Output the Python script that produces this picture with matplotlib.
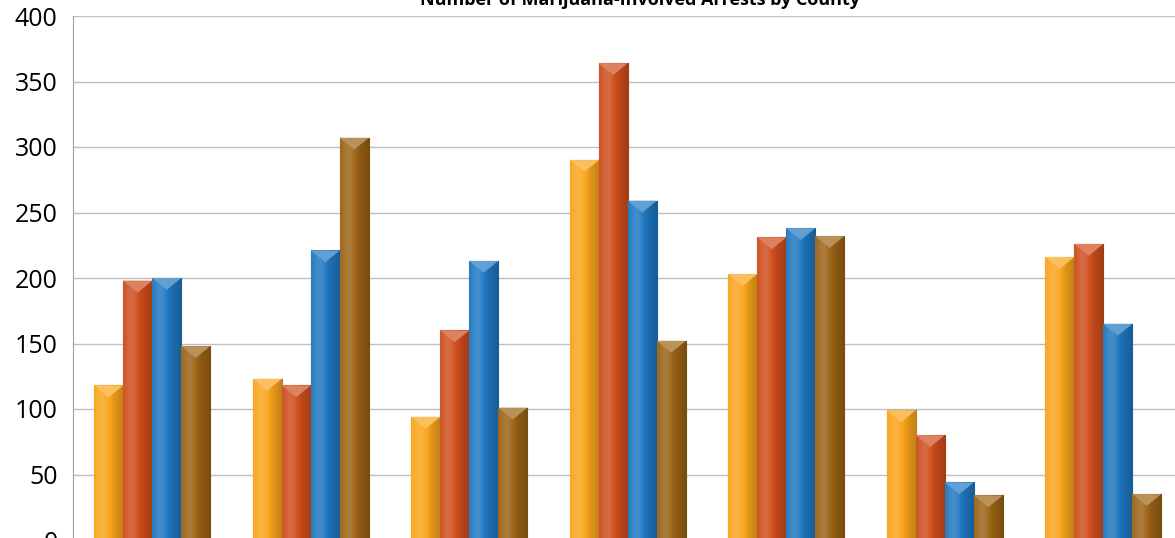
import numpy as np
import matplotlib.pyplot as plt
import matplotlib.colors as mcolors

counties = ["A", "B", "C", "D", "E", "F", "G"]
s1 = [118, 123, 94, 290, 203, 99, 216]
s2 = [198, 118, 160, 364, 231, 80, 226]
s3 = [200, 221, 213, 259, 238, 44, 165]
s4 = [148, 307, 101, 152, 232, 34, 35]
series = [s1, s2, s3, s4]
colors = ["#F9A41C", "#CE4D1C", "#1F77C0", "#9A6214"]

fig = plt.figure(figsize=(11.75, 5.38), dpi=100)
ax = fig.add_axes([73/1175, -2/538, 1109.5/1175, 524/538])

x = np.arange(len(counties))
w = 0.183

def shade(c, f):
    r = np.array(mcolors.to_rgb(c))
    if f > 0:
        return r + (1 - r) * f
    return r * (1 + f)

for i, (vals, c) in enumerate(zip(series, colors)):
    pos = x + (i - 1.5) * w
    bars = ax.bar(pos, vals, w, color=c, edgecolor=shade(c, -0.35), linewidth=0.8, zorder=3)
    # horizontal gradient to mimic the shiny bars
    t = np.linspace(0, 1, 40)
    prof = 0.18 * np.exp(-((t - 0.3) / 0.25) ** 2) - 0.22 * t ** 2
    grad = np.array([shade(c, p) for p in prof])[None, :, :]
    grad = np.clip(grad, 0, 1)
    for b, v in zip(bars, vals):
        x0 = b.get_x()
        im = ax.imshow(grad, extent=[x0, x0 + w, 0, v], aspect="auto", zorder=3.5)
        im.set_clip_path(b)
        # bevel at the top
        h = 9
        tri = plt.Polygon([[x0, v], [x0 + w, v], [x0 + w / 2, v - h]],
                          closed=True, color=shade(c, 0.3), zorder=4, lw=0)
        ax.add_patch(tri)

ax.set_xlim(-0.5, 6.5)
ax.set_ylim(0, 400)
ax.set_yticks(range(0, 401, 50))
ax.yaxis.grid(True, color="#BFBFBF", lw=1)
ax.set_axisbelow(True)
ax.set_xticks([])
ax.tick_params(axis="y", length=0, labelsize=18, pad=11)
for s in ["top", "right", "bottom"]:
    ax.spines[s].set_visible(False)
ax.spines["left"].set_color("#A0A0A0")
for lab in ax.get_yticklabels():
    lab.set_fontfamily("Open Sans")

fig.text(640/1175, 1.0, "Number of Marijuana-Involved Arrests by County", ha="center",
         va="center", fontsize=13, fontweight="bold", family="Open Sans")

fig.savefig("out.png", dpi=100)
